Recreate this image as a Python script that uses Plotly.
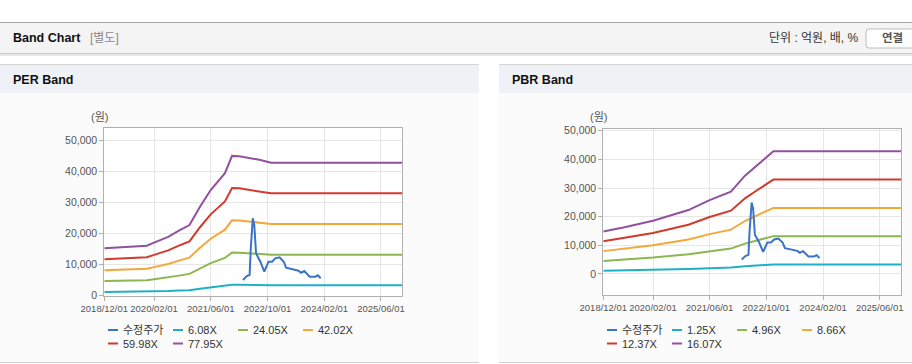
import plotly.graph_objects as go

W, H = 912, 364

# ---------------- data ----------------
PER_DATES = ["2018-12-01", "2019-06-01", "2019-12-01", "2020-02-01", "2020-06-01",
             "2020-09-01", "2020-12-01", "2021-03-01", "2021-06-01", "2021-10-01",
             "2021-12-01", "2022-02-01", "2022-08-01", "2022-11-01", "2025-12-01"]
PER_6_08X = [1191, 1232, 1256, 1334, 1482, 1638, 1778, 2239, 2660, 3081, 3518, 3510, 3416, 3346, 3346]
PER_24_05X = [4711, 4875, 4966, 5277, 5861, 6479, 7035, 8855, 10522, 12186, 13915, 13884, 13514, 13237, 13237]
PER_42_02X = [8232, 8517, 8677, 9219, 10240, 11320, 12291, 15472, 18384, 21292, 24313, 24258, 23611, 23128, 23128]
PER_59_98X = [11750, 12158, 12386, 13160, 14617, 16159, 17544, 22085, 26241, 30392, 34705, 34627, 33703, 33013, 33013]
PER_77_95X = [15270, 15800, 16100, 17100, 19000, 21000, 22800, 28700, 34100, 39500, 45100, 45000, 43800, 42900, 42900]

PBR_DATES = ["2018-12-01", "2019-06-01", "2020-02-01", "2020-12-01", "2021-06-01",
             "2021-12-01", "2022-04-01", "2022-07-01", "2022-12-01", "2025-12-01"]
PBR_1_25X = [1151, 1268, 1447, 1735, 2007, 2232, 2668, 2917, 3329, 3329]
PBR_4_96X = [4568, 5031, 5741, 6883, 7963, 8858, 10587, 11574, 13210, 13210]
PBR_8_66X = [7976, 8784, 10023, 12017, 13904, 15466, 18484, 20208, 23064, 23064]
PBR_12_37X = [11393, 12547, 14317, 17166, 19860, 22092, 26403, 28865, 32945, 32945]
PBR_16_07X = [14800, 16300, 18600, 22300, 25800, 28700, 34300, 37500, 42800, 42800]

PRICE_DATES = ["2022-03-04", "2022-04-07", "2022-05-01", "2022-05-10", "2022-05-28",
               "2022-06-10", "2022-06-25", "2022-08-01", "2022-09-04", "2022-10-10",
               "2022-11-10", "2022-12-07", "2023-01-13", "2023-02-18", "2023-03-10",
               "2023-04-28", "2023-06-25", "2023-07-16", "2023-08-13", "2023-09-28",
               "2023-11-16", "2023-12-07", "2024-01-01"]
PRICE = [5060, 6350, 6680, 14700, 24960, 22800, 13670, 10970, 7740, 10970,
         10970, 12050, 12380, 10970, 9030, 8500, 8060, 7420, 7960, 6130,
         6130, 6580, 5610]

TICK_DATES = ["2018-12-01", "2020-02-01", "2021-06-01", "2022-10-01", "2024-02-01", "2025-06-01"]
TICK_TEXT = ["2018/12/01", "2020/02/01", "2021/06/01", "2022/10/01", "2024/02/01", "2025/06/01"]
X_RANGE = ["2018-12-01", "2025-12-01"]

PER_NAMES = ["6.08X", "24.05X", "42.02X", "59.98X", "77.95X"]
PBR_NAMES = ["1.25X", "4.96X", "8.66X", "12.37X", "16.07X"]
PRICE_NAME = "수정주가"

BAND_COLORS = ["#1db1c7", "#8cb64f", "#f4a83a", "#d13a2c", "#92519e"]
PRICE_COLOR = "#3a74c6"

# ---------------- helpers (layout only) ----------------
def px(x):
    return x / W

def py(y):
    return 1 - y / H

FONT_NUM = "Liberation Sans, Arial, sans-serif"
FONT_KR = "Liberation Sans, Noto Sans CJK KR, sans-serif"

fig = go.Figure()

per_series = [PER_6_08X, PER_24_05X, PER_42_02X, PER_59_98X, PER_77_95X]
pbr_series = [PBR_1_25X, PBR_4_96X, PBR_8_66X, PBR_12_37X, PBR_16_07X]

for panel, (dates, series, names, xa, ya) in enumerate([
        (PER_DATES, per_series, PER_NAMES, "x", "y"),
        (PBR_DATES, pbr_series, PBR_NAMES, "x2", "y2")]):
    for k, (vals, nm) in enumerate(zip(series, names)):
        fig.add_trace(go.Scatter(
            x=dates, y=vals, name=nm, mode="lines",
            line=dict(color=BAND_COLORS[k], width=2),
            xaxis=xa, yaxis=ya, showlegend=False, hoverinfo="skip"))
    fig.add_trace(go.Scatter(
        x=PRICE_DATES, y=PRICE, name=PRICE_NAME, mode="lines",
        line=dict(color=PRICE_COLOR, width=2),
        xaxis=xa, yaxis=ya, showlegend=False, hoverinfo="skip"))

axis_common = dict(
    showgrid=True, gridcolor="#e6e6e6", gridwidth=1,
    showline=True, linecolor="#b0b0b0", linewidth=1, mirror=True,
    ticks="outside", ticklen=4, tickcolor="#b0b0b0",
    tickfont=dict(family=FONT_NUM, size=10.5, color="#555555"),
    zeroline=False, fixedrange=True,
)
xfont = dict(family=FONT_NUM, size=9.5, color="#555555")

fig.update_layout(
    xaxis=dict(axis_common, type="date", range=X_RANGE, tickvals=TICK_DATES, ticktext=TICK_TEXT,
               tickangle=0, tickfont=xfont, domain=[px(104.3), px(402.3)], anchor="y"),
    yaxis=dict(axis_common, range=[0, 54000], dtick=10000, tickformat=",d",
               domain=[py(295.7), py(128.3)], anchor="x"),
    xaxis2=dict(axis_common, type="date", range=X_RANGE, tickvals=TICK_DATES, ticktext=TICK_TEXT,
                tickangle=0, tickfont=xfont, domain=[px(603.3), px(901)], anchor="y2"),
    yaxis2=dict(axis_common, range=[-7330, 50590], dtick=10000, tickformat=",d",
                domain=[py(295), py(129)], anchor="x2"),
)

# ---------------- page chrome ----------------
shapes = []
def rect(x0, y0, x1, y1, fill, line=None, layer="below"):
    shapes.append(dict(type="rect", xref="paper", yref="paper",
                       x0=px(x0), x1=px(x1), y0=py(y1), y1=py(y0),
                       fillcolor=fill, line=dict(width=0) if line is None else line,
                       layer=layer))

def hline(x0, x1, y, color, width=1, layer="below"):
    shapes.append(dict(type="line", xref="paper", yref="paper",
                       x0=px(x0), x1=px(x1), y0=py(y), y1=py(y),
                       line=dict(color=color, width=width), layer=layer))

# header bar
rect(0, 22, 912, 53, "#f4f4f4")
hline(0, 912, 22.5, "#a9a9a9", 1)
rect(0, 53, 912, 54, "#c9c9c9")
rect(0, 54, 912, 56, "#e8e8e8")

# panels
for (a, b) in [(0, 479), (499, 912)]:
    rect(a, 93, b, 362, "#fbfbfb")
    rect(a, 64, b, 93, "#eef2f7")
    hline(a, b, 64.5, "#d6d6d6", 1)
    hline(a, b, 362.5, "#cfcfcf", 1)

# white plot backgrounds
rect(104.3, 128.3, 402.3, 295.7, "#ffffff")
rect(603.3, 129, 901, 295, "#ffffff")

# button (rounded)
bx0, bx1, by0, by1, r = 866, 918, 29, 48, 3
path = (f"M{px(bx0 + r)},{py(by0)} L{px(bx1 - r)},{py(by0)} Q{px(bx1)},{py(by0)} {px(bx1)},{py(by0 + r)} "
        f"L{px(bx1)},{py(by1 - r)} Q{px(bx1)},{py(by1)} {px(bx1 - r)},{py(by1)} "
        f"L{px(bx0 + r)},{py(by1)} Q{px(bx0)},{py(by1)} {px(bx0)},{py(by1 - r)} "
        f"L{px(bx0)},{py(by0 + r)} Q{px(bx0)},{py(by0)} {px(bx0 + r)},{py(by0)} Z")
shapes.append(dict(type="path", xref="paper", yref="paper", path=path,
                   fillcolor="#ffffff", line=dict(color="#bdbdbd", width=1), layer="below"))

ann = []
def text(x, y, s, size=12, color="#111111", anchor="left", bold=False, family=FONT_KR):
    ann.append(dict(x=px(x), y=py(y), xref="paper", yref="paper", text=(f"<b>{s}</b>" if bold else s),
                    showarrow=False, xanchor=anchor, yanchor="middle",
                    font=dict(family=family, size=size, color=color)))

# legends (drawn as sample line + label, two rows per panel)
LEG_COLS = [0, 65, 130, 195]
for x_off, names in [(0, PER_NAMES), (499, PBR_NAMES)]:
    entries = [(PRICE_NAME, PRICE_COLOR)] + list(zip(names, BAND_COLORS))
    for i, (nm, col) in enumerate(entries):
        row, colidx = divmod(i, 4)
        sx = 108 + x_off + LEG_COLS[colidx]
        sy = 330 + row * 13.5
        hline(sx, sx + 10, sy, col, 2, layer="above")
        text(sx + 12.5, sy, nm, size=11, color="#333333")

fig.update_layout(shapes=shapes)

text(11, 38, "Band Chart", size=12.5, bold=True)
text(88, 38, "[별도]", size=12, color="#8a8a8a")
text(861, 38, "단위 : 억원, 배, %", size=12, color="#333333", anchor="right")
text(892, 38.5, "연결", size=11.5, color="#555555", anchor="center", bold=True)
text(11, 80, "PER Band", size=12.5, bold=True)
text(510, 80, "PBR Band", size=12.5, bold=True)
text(99, 117, "(원)", size=11, color="#555555", anchor="center")
text(598, 117, "(원)", size=11, color="#555555", anchor="center")

fig.update_layout(
    annotations=ann,
    width=W, height=H,
    margin=dict(l=0, r=0, t=0, b=0, pad=0, autoexpand=False),
    paper_bgcolor="#ffffff", plot_bgcolor="rgba(0,0,0,0)",
    showlegend=False,
    hovermode=False,
)

fig.write_html("out.html", config={"displayModeBar": False},
               post_script="document.body.style.margin='0px';")
